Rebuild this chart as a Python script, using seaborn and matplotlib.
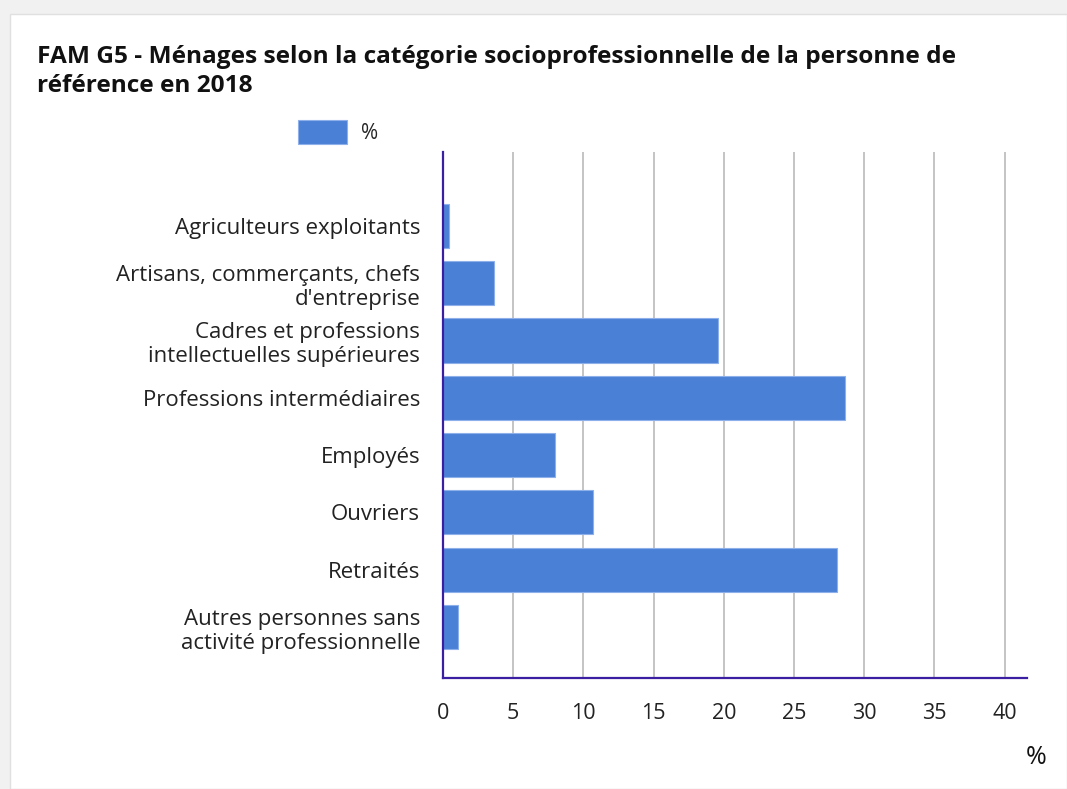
import matplotlib
matplotlib.use("Agg")
import matplotlib.pyplot as plt
import seaborn as sns
import pandas as pd
from matplotlib.patches import Rectangle

# data
categories = [
    "Agriculteurs exploitants",
    "Artisans, commerçants, chefs\nd'entreprise",
    "Cadres et professions\nintellectuelles supérieures",
    "Professions intermédiaires",
    "Employés",
    "Ouvriers",
    "Retraités",
    "Autres personnes sans\nactivité professionnelle",
]
values = [0.4, 3.6, 19.6, 28.6, 8.0, 10.7, 28.1, 1.1]
x_ticks = [0, 5, 10, 15, 20, 25, 30, 35, 40]

df = pd.DataFrame({"cat": categories, "val": values})

sns.set_style("white")
plt.rcParams["font.family"] = ["Open Sans", "DejaVu Sans"]

W, H = 1067, 789
fig = plt.figure(figsize=(W / 100, H / 100), dpi=100, facecolor="#f1f1f1")
# white card behind everything
card = Rectangle((10 / W, 0), 1 - 10 / W, 1 - 14 / H,
                 transform=fig.transFigure, facecolor="white",
                 edgecolor="#e0e0e0", linewidth=1, zorder=-10)
fig.patches.append(card)

ax = fig.add_axes([443 / W, 1 - 678 / H, (1027 - 443) / W, (678 - 152) / H])
ax.set_facecolor("none")

bar_color = "#4a80d6"
sns.barplot(data=df, x="val", y="cat", orient="h", color=bar_color,
            width=0.77, saturation=1, edgecolor="#8db0ea", linewidth=0.8,
            label="%", ax=ax, zorder=3)

ax.set_xlim(0, 41.6)
ax.set_ylim(7.89, -1.29)
ax.set_xticks(x_ticks)
ax.set_xticklabels([str(t) for t in x_ticks], fontsize=15.5, color="#222222")
ax.tick_params(axis="x", length=6, width=1, color="#bbbbbb", pad=12)
ax.tick_params(axis="y", length=0, pad=16.5, labelsize=16, labelcolor="#222222")
for lbl in ax.get_yticklabels():
    lbl.set_horizontalalignment("right")
    lbl.set_multialignment("right")
    lbl.set_linespacing(1.2)

ax.xaxis.grid(True, color="#c4c4c4", linewidth=1.4, zorder=0)
ax.set_axisbelow(True)

for side in ["top", "right"]:
    ax.spines[side].set_visible(False)
for side in ["left", "bottom"]:
    ax.spines[side].set_color("#3b1fa3")
    ax.spines[side].set_linewidth(1.6)
    ax.spines[side].set_zorder(5)

ax.set_xlabel("")
ax.set_ylabel("")

# unit label at the bottom right
fig.text(1036 / W, 1 - 758 / H, "%", fontsize=18, ha="center", va="center",
         color="#111111")

# legend
handles, labels = ax.get_legend_handles_labels()
if ax.legend_ is not None:
    ax.legend_.remove()
fig.legend(handles, labels, loc="center left",
           bbox_to_anchor=(298 / W, 1 - 132 / H), frameon=False,
           fontsize=15, handlelength=2.36, handleheight=1.35,
           handletextpad=0.67, borderpad=0, borderaxespad=0)

fig.text(37 / W, 1 - 45 / H,
         "FAM G5 - Ménages selon la catégorie socioprofessionnelle de la personne de\nréférence en 2018",
         fontsize=17.6, fontweight="bold", ha="left", va="top",
         color="#111111", linespacing=1.3)

fig.savefig("out.png", dpi=100, facecolor=fig.get_facecolor())
